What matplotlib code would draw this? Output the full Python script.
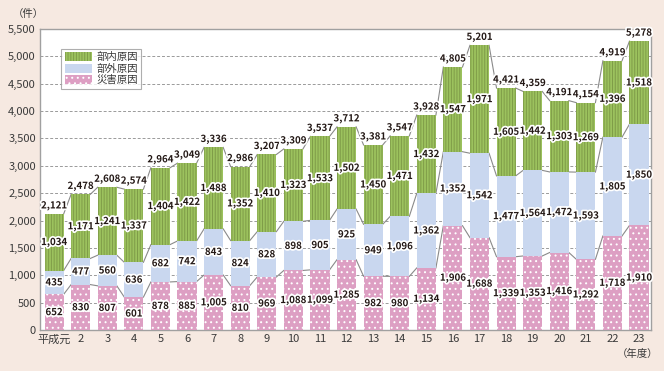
import matplotlib
matplotlib.use("Agg")
import matplotlib.pyplot as plt
import matplotlib.patheffects as pe
from matplotlib.patches import Patch
import numpy as np

plt.rcParams['font.family'] = ['Noto Sans CJK JP', 'DejaVu Sans']
plt.rcParams['hatch.linewidth'] = 0.7

years = ['平成元'] + [str(i) for i in range(2, 24)]
saigai = [652, 830, 807, 601, 878, 885, 1005, 810, 969, 1088, 1099, 1285, 982, 980,
          1134, 1906, 1688, 1339, 1353, 1416, 1292, 1718, 1910]
bugai = [435, 477, 560, 636, 682, 742, 843, 824, 828, 898, 905, 925, 949, 1096,
         1362, 1352, 1542, 1477, 1564, 1472, 1593, 1805, 1850]
bunai = [1034, 1171, 1241, 1337, 1404, 1422, 1488, 1352, 1410, 1323, 1533, 1502, 1450, 1471,
         1432, 1547, 1971, 1605, 1442, 1303, 1269, 1396, 1518]
totals = [2121, 2478, 2608, 2574, 2964, 3049, 3336, 2986, 3207, 3309, 3537, 3712, 3381, 3547,
          3928, 4805, 5201, 4421, 4359, 4191, 4154, 4919, 5278]
series_names = ['災害原因', '部外原因', '部内原因']

bg = '#f6e9e1'
c_pink = '#dd9fc3'
c_blue = '#c9d7ef'
c_green = '#9cc25e'
c_stripe = '#7f9c48'
txt = '#231815'

fig = plt.figure(figsize=(6.64, 3.71), dpi=100, facecolor=bg)
ax = fig.add_axes([40/664, 1-330/371, 611/664, 301/371])
ax.set_facecolor('white')

x = np.arange(len(years))
w = 0.72
s = np.array(saigai); b = np.array(bugai); n = np.array(bunai)

ax.bar(x, s, w, color=c_pink, edgecolor='white', linewidth=0, hatch='...', zorder=3)
ax.bar(x, b, w, bottom=s, color=c_blue, linewidth=0, zorder=3)
ax.bar(x, n, w, bottom=s + b, color=c_green, edgecolor=c_stripe, linewidth=0, hatch='||||||', zorder=3)

# connector lines
levels = [s, s + b, s + b + n]
for lv in levels:
    for i in range(len(x) - 1):
        ax.plot([x[i] + w/2, x[i+1] - w/2], [lv[i], lv[i+1]], color='#8a8a8a', lw=0.8, zorder=2)

stroke = [pe.withStroke(linewidth=2.5, foreground='white')]
kw = dict(ha='center', va='center', fontsize=7, fontweight='bold', color=txt, zorder=5, path_effects=stroke)
for i in range(len(x)):
    ax.text(x[i], s[i]/2, f'{saigai[i]:,}', **kw)
    ax.text(x[i], s[i] + b[i]/2, f'{bugai[i]:,}', **kw)
    ax.text(x[i], s[i] + b[i] + n[i]/2, f'{bunai[i]:,}', **kw)
    ax.annotate(f'{totals[i]:,}', (x[i], totals[i]), xytext=(0, 6), textcoords='offset points',
                ha='center', va='center', fontsize=7, fontweight='bold', color=txt, zorder=5,
                path_effects=stroke)

ax.set_xlim(-0.53, 22.45)
ax.set_ylim(0, 5500)
ax.set_yticks(np.arange(0, 5501, 500))
ax.set_yticklabels([f'{v:,}' for v in range(0, 5501, 500)])
ax.set_xticks(x)
ax.set_xticklabels(years)
ax.tick_params(length=0, labelsize=8, colors='#3a3a3a', pad=3)
ax.yaxis.grid(True, linestyle=(0, (3, 2)), color='#9a9a9a', lw=0.7, zorder=0)
for sp in ax.spines.values():
    sp.set_color('#a0a0a0')
    sp.set_linewidth(1.0)

fig.text(28/664, 1-14/371, '（件）', ha='center', va='center', fontsize=7.5, color='#3a3a3a')
fig.text(638/664, 1-354/371, '（年度）', ha='center', va='center', fontsize=7.5, color='#3a3a3a')

handles = [Patch(facecolor=c_green, edgecolor=c_stripe, hatch='||||||', linewidth=0),
           Patch(facecolor=c_blue, linewidth=0),
           Patch(facecolor=c_pink, edgecolor='white', hatch='...', linewidth=0)]
leg = ax.legend(handles, ['部内原因', '部外原因', '災害原因'], loc='upper left',
                bbox_to_anchor=(0.035, 0.935), fontsize=7.5, frameon=True, fancybox=False,
                handlelength=2.6, handleheight=0.9, handletextpad=0.4, labelspacing=0.15,
                borderpad=0.35, borderaxespad=0)
leg.get_frame().set_edgecolor('#9a9a9a')
leg.get_frame().set_linewidth(0.8)
leg.set_zorder(6)
for t in leg.get_texts():
    t.set_color('#3a3a3a')

fig.savefig('out.png', dpi=100, facecolor=bg)
